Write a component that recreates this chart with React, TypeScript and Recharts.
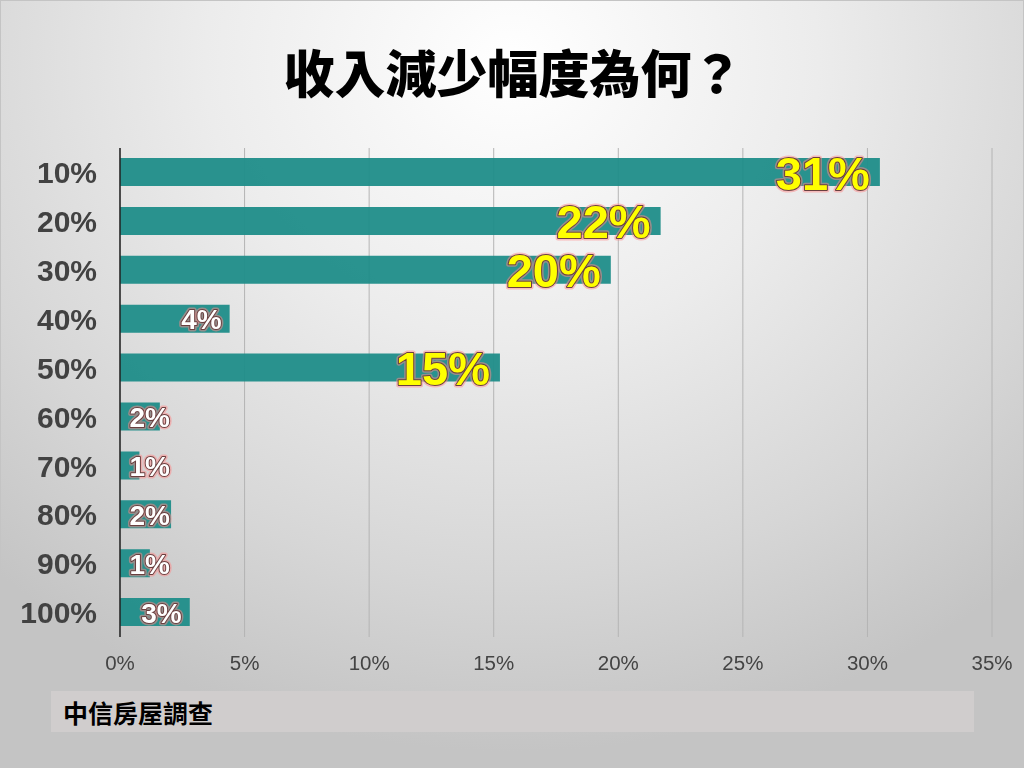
import React from 'react';
import { BarChart, Bar, XAxis, YAxis, CartesianGrid, LabelList } from 'recharts';

const categories = ['10%', '20%', '30%', '40%', '50%', '60%', '70%', '80%', '90%', '100%'];
const values = [30.5, 21.7, 19.7, 4.4, 15.25, 1.6, 0.78, 2.05, 1.2, 2.8];
const valueLabels = ['31%', '22%', '20%', '4%', '15%', '2%', '1%', '2%', '1%', '3%'];
const xTicks = [0, 5, 10, 15, 20, 25, 30, 35];

const data = categories.map((c, i) => ({ name: c, value: values[i], label: valueLabels[i] }));

const LATIN = '"Liberation Sans", Arial, sans-serif';
const CJK = '"Noto Sans CJK TC", "Noto Sans CJK SC", sans-serif';

const BarLabel = (props: any) => {
  const { x, y, width, height, index } = props;
  const text = valueLabels[index];
  const big = values[index] >= 10;
  const cy = y + height / 2 + 1;
  const endX = big ? x + width - 10 : Math.max(x + width - 8, x + 50);
  const fontSize = big ? 47 : 28;
  const fill = big ? '#ffff00' : '#ffffff';
  const common = {
    x: endX,
    y: cy,
    textAnchor: 'end' as const,
    dominantBaseline: 'central' as const,
    fontFamily: LATIN,
    fontWeight: 700,
    fontSize,
  };
  return (
    <g>
      <text {...common} fill="none" stroke="#ff8a8a" strokeWidth={5} strokeOpacity={0.5} strokeLinejoin="round">
        {text}
      </text>
      <text {...common} fill={fill} stroke="#6a3f3f" strokeWidth={2} paintOrder="stroke" strokeLinejoin="round">
        {text}
      </text>
    </g>
  );
};

export default function App() {
  return (
    <div
      style={{
        position: 'fixed',
        left: 0,
        top: 0,
        width: 1024,
        height: 768,
        boxSizing: 'border-box',
        border: '1px solid #c4c4c4',
        background: 'radial-gradient(ellipse 75% 90% at 50% 8%, #ffffff 0%, #ececec 40%, #d6d6d6 75%, #c4c4c4 100%)',
        overflow: 'hidden',
      }}
    >
      <div
        style={{
          position: 'absolute',
          left: 0,
          top: 40,
          width: 1024,
          textAlign: 'center',
          fontFamily: CJK,
          fontWeight: 900,
          fontSize: 51,
          lineHeight: '60px',
          color: '#000',
        }}
      >
        收入減少幅度為何？
      </div>
      <div style={{ position: 'absolute', left: -1, top: -1 }}>
        <BarChart
          width={1024}
          height={768}
          data={data}
          layout="vertical"
          margin={{ top: 148, right: 32, bottom: 101, left: 0 }}
        >
          <CartesianGrid horizontal={false} vertical={true} stroke="#b4b4b4" strokeWidth={1} />
          <XAxis
            type="number"
            domain={[0, 35]}
            ticks={xTicks}
            interval={0}
            tickFormatter={(v: number) => `${v}%`}
            axisLine={false}
            tickLine={false}
            tickSize={0}
            tickMargin={18}
            height={30}
            tick={{ fill: '#444444', fontSize: 20.5, fontFamily: LATIN }}
          />
          <YAxis
            type="category"
            dataKey="name"
            width={120}
            axisLine={{ stroke: '#222222', strokeWidth: 1.5 }}
            tickLine={false}
            tickSize={0}
            tickMargin={23}
            interval={0}
            tick={{ fill: '#424242', fontSize: 30, fontWeight: 700, fontFamily: LATIN }}
          />
          <Bar dataKey="value" fill="#1f8d89" fillOpacity={0.95} barSize={28} isAnimationActive={false}>
            <LabelList dataKey="label" content={BarLabel} />
          </Bar>
        </BarChart>
      </div>
      <div
        style={{
          position: 'absolute',
          left: 50,
          top: 690,
          width: 923,
          height: 41,
          background: '#d0cdcd',
          display: 'flex',
          alignItems: 'center',
          paddingLeft: 12,
          boxSizing: 'border-box',
          fontFamily: CJK,
          fontWeight: 700,
          fontSize: 25,
          color: '#000',
        }}
      >
        中信房屋調查
      </div>
    </div>
  );
}
